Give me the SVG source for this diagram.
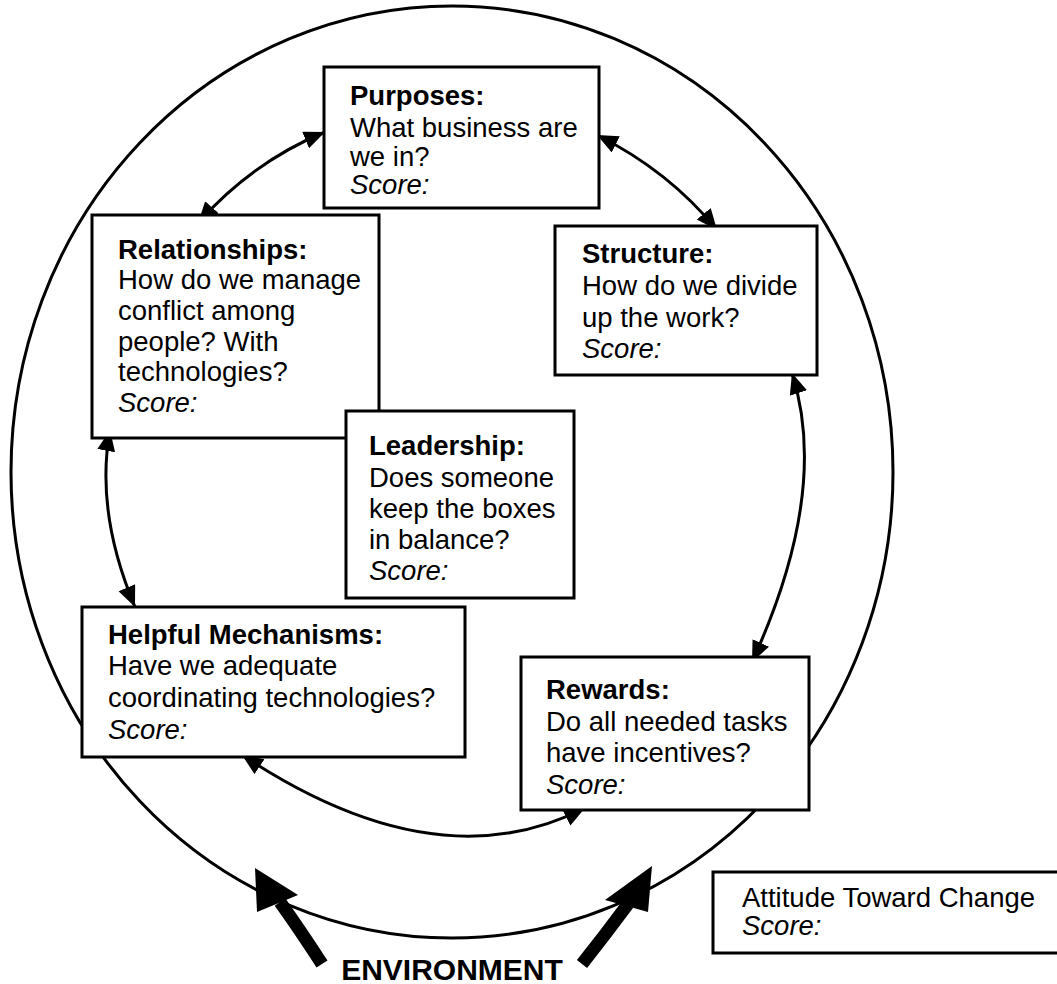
<svg xmlns="http://www.w3.org/2000/svg" width="1057" height="984" viewBox="0 0 1057 984">
  <style>
    .box { fill: #fff; stroke: #000; stroke-width: 3; }
    .t { font-family: "Liberation Sans", Arial, Helvetica, sans-serif; font-size: 27.5px; fill: #000; }
    .h { font-weight: bold; }
    .s { font-style: italic; }
    .link { fill: none; stroke: #000; stroke-width: 3; marker-start: url(#head); marker-end: url(#head); }
  </style>
  <defs>
    <marker id="head" markerUnits="userSpaceOnUse" markerWidth="24" markerHeight="20" refX="21" refY="9" orient="auto-start-reverse">
      <path d="M0,0 L21,9 L0,18 Z" fill="#000"/>
    </marker>
  </defs>
  <rect width="1057" height="984" fill="#fff"/>

  <!-- environment ring -->
  <ellipse id="environment-ring" cx="452" cy="472" rx="441" ry="466" fill="none" stroke="#000" stroke-width="3"/>

  <!-- connectors between the boxes -->
  <g id="connectors">
    <path class="link" d="M198,223 Q252,162 325,132"/>
    <path class="link" d="M597,135 Q669,171 717,230"/>
    <path class="link" d="M110,430 Q95,512 135,607"/>
    <path class="link" d="M792,373 Q830,492 752,662"/>
    <path class="link" d="M242,755 Q436,884 585,808"/>
  </g>

  <g id="purposes">
    <rect class="box" x="324" y="67" width="275" height="141"/>
    <text class="t h" x="350" y="105">Purposes:</text>
    <text class="t" x="350" y="137">What business are</text>
    <text class="t" x="350" y="166">we in?</text>
    <text class="t s" x="350" y="194">Score:</text>
  </g>

  <g id="relationships">
    <rect class="box" x="92" y="215" width="287" height="223"/>
    <text class="t h" x="118" y="259">Relationships:</text>
    <text class="t" x="118" y="289">How do we manage</text>
    <text class="t" x="118" y="320">conflict among</text>
    <text class="t" x="118" y="351">people? With</text>
    <text class="t" x="118" y="381">technologies?</text>
    <text class="t s" x="118" y="412">Score:</text>
  </g>

  <g id="structure">
    <rect class="box" x="555" y="226" width="262" height="149"/>
    <text class="t h" x="582" y="263">Structure:</text>
    <text class="t" x="582" y="295">How do we divide</text>
    <text class="t" x="582" y="327">up the work?</text>
    <text class="t s" x="582" y="358">Score:</text>
  </g>

  <g id="leadership">
    <rect class="box" x="346" y="411" width="228" height="187"/>
    <text class="t h" x="369" y="455">Leadership:</text>
    <text class="t" x="369" y="487">Does someone</text>
    <text class="t" x="369" y="518">keep the boxes</text>
    <text class="t" x="369" y="549">in balance?</text>
    <text class="t s" x="369" y="580">Score:</text>
  </g>

  <g id="helpful-mechanisms">
    <rect class="box" x="82" y="607" width="383" height="150"/>
    <text class="t h" x="108" y="644">Helpful Mechanisms:</text>
    <text class="t" x="108" y="675">Have we adequate</text>
    <text class="t" x="108" y="707">coordinating technologies?</text>
    <text class="t s" x="108" y="739">Score:</text>
  </g>

  <g id="rewards">
    <rect class="box" x="521" y="657" width="288" height="153"/>
    <text class="t h" x="546" y="699">Rewards:</text>
    <text class="t" x="546" y="731">Do all needed tasks</text>
    <text class="t" x="546" y="762">have incentives?</text>
    <text class="t s" x="546" y="794">Score:</text>
  </g>

  <g id="attitude">
    <rect class="box" x="713" y="872" width="360" height="81"/>
    <text class="t" x="742" y="907">Attitude Toward Change</text>
    <text class="t s" x="742" y="935">Score:</text>
  </g>

  <!-- environmental pressure arrows -->
  <g id="environment">
    <path d="M322,964 Q300,930 280,902" fill="none" stroke="#000" stroke-width="13"/>
    <polygon points="255,868 298,895 257,912" fill="#000"/>
    <path d="M582,964 Q605,935 628,904" fill="none" stroke="#000" stroke-width="13"/>
    <polygon points="652,866 648,912 605,900" fill="#000"/>
    <text class="t h" x="452" y="980" text-anchor="middle" style="font-size:30px">ENVIRONMENT</text>
  </g>
</svg>
